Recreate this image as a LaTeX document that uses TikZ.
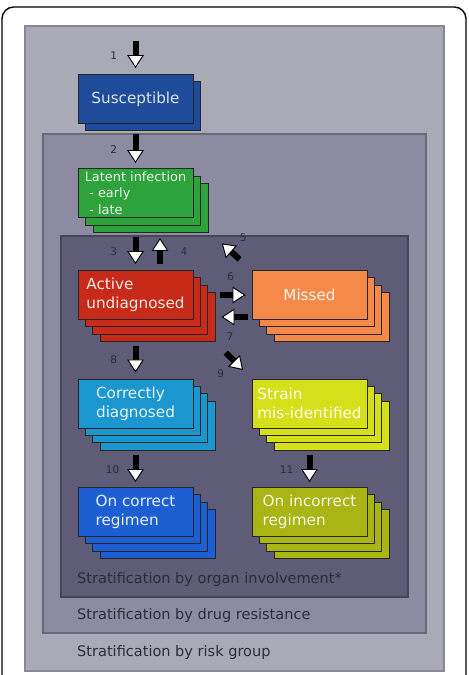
\documentclass[tikz,border=0pt]{standalone}
\usepackage{fontspec}
\setmainfont{DejaVu Sans}
\usetikzlibrary{arrows.meta, shadows, positioning}
\definecolor{riskgray}{RGB}{170,169,182}
\definecolor{druggray}{RGB}{140,139,161}
\definecolor{organgray}{RGB}{94,92,118}
\definecolor{suscblue}{RGB}{31,75,155}
\definecolor{latgreen}{RGB}{47,163,59}
\definecolor{actred}{RGB}{200,42,25}
\definecolor{missorange}{RGB}{245,137,74}
\definecolor{diagcyan}{RGB}{27,150,207}
\definecolor{strainyellow}{RGB}{213,224,27}
\definecolor{regblue}{RGB}{29,95,211}
\definecolor{regolive}{RGB}{169,181,21}
\definecolor{labelgray}{RGB}{45,45,55}

\begin{document}
\begin{tikzpicture}[
  state/.style={rectangle, draw=black!85, line width=0.8pt, minimum width=3.45cm, minimum height=1.47cm, align=left, inner sep=2pt, font=\fontsize{13}{16}\selectfont},
  stack1/.style={copy shadow={shadow xshift=0.21cm, shadow yshift=-0.21cm}},
  stack2/.style={copy shadow={shadow xshift=0.45cm, shadow yshift=-0.45cm}, copy shadow={shadow xshift=0.225cm, shadow yshift=-0.225cm}},
  stack3/.style={copy shadow={shadow xshift=0.66cm, shadow yshift=-0.66cm}, copy shadow={shadow xshift=0.44cm, shadow yshift=-0.44cm}, copy shadow={shadow xshift=0.22cm, shadow yshift=-0.22cm}},
  flow/.style={line width=0.18cm, -{Triangle[fill=white, length=0.39cm, width=0.5cm, line width=0.8pt]}},
  num/.style={font=\fontsize{9}{10}\selectfont, text=labelgray, inner sep=1pt},
  strat/.style={font=\fontsize{12.4}{14}\selectfont, text=labelgray, anchor=west, inner sep=0pt}
]
  \useasboundingbox (0,0) rectangle (14.07,20.25);
  % nested strata
  \draw[line width=1.2pt, rounded corners=0.35cm, fill=white] (0.06,-0.5) rectangle (13.98,20.04);
  \draw[draw=riskgray!80!black, line width=1.2pt, fill=riskgray] (0.75,0.12) rectangle (13.32,19.47);
  \draw[draw=druggray!75!black, line width=1.2pt, fill=druggray] (1.29,1.26) rectangle (12.78,16.23);
  \draw[draw=organgray!75!black, line width=1.2pt, fill=organgray] (1.83,2.34) rectangle (12.24,13.17);
  \node[strat] (organ) at (2.31, 2.88) {Stratification by organ involvement*};
  \node[strat] (drug) at (2.31, 1.80) {Stratification by drug resistance};
  \node[strat] (risk) at (2.31, 0.69) {Stratification by risk group};

  % compartments
  \node[state, stack1, fill=suscblue, text=white!85!suscblue, align=center] (sus) at (4.065, 17.28) {Susceptible};
  \node[state, stack2, fill=latgreen, text=white!90!latgreen, font=\fontsize{11}{14}\selectfont] (lat) at (4.065, 14.46) {Latent infection\\\hspace{0.35em}- early\\\hspace{0.35em}- late};
  \node[state, stack3, fill=actred, text=white!90!actred] (act) at (4.065, 11.40) {Active\\undiagnosed};
  \node[state, stack3, fill=missorange, text=white!90!missorange, align=center] (mis) at (9.285, 11.40) {Missed};
  \node[state, stack3, fill=diagcyan, text=white!90!diagcyan] (cor) at (4.065, 8.145) {Correctly\\diagnosed};
  \node[state, stack3, fill=strainyellow, text=white!92!strainyellow] (str) at (9.285, 8.145) {Strain\\mis-identified};
  \node[state, stack3, fill=regblue, text=white!90!regblue] (reg) at (4.065, 4.89) {On correct\\regimen};
  \node[state, stack3, fill=regolive, text=white!90!regolive] (inc) at (9.285, 4.89) {On incorrect\\regimen};

  % transitions
  \coordinate (entry) at (4.065, 19.02);
  \draw[flow, shorten >=0.18cm] (entry) -- node[num, left=0.43cm, pos=0.45] {1} (sus.north);
  \draw[flow, shorten <=0.3cm, shorten >=0.15cm] (sus.south) -- node[num, left=0.43cm, pos=0.59] {2} (lat.north);
  \draw[flow, shorten <=0.57cm, shorten >=0.18cm] (lat.south) -- node[num, left=0.43cm, pos=0.64] {3} (act.north);
  \draw[flow, shorten <=0.18cm, shorten >=0.6cm] ([xshift=0.735cm]act.north) -- node[num, right=0.49cm, pos=0.36] {4} ([xshift=0.735cm]lat.south);
  \draw[flow, shorten <=0.48cm, shorten >=1.14cm] (mis.north west) -- node[num, above right=0.22cm, pos=0.36] {5} (lat.south east);
  \draw[flow, shorten <=0.81cm, shorten >=0.18cm] (act.east) -- node[num, above=0.32cm, pos=0.64] {6} (mis.west);
  \draw[flow, shorten <=0.12cm, shorten >=0.84cm] ([yshift=-0.66cm]mis.west) -- node[num, below=0.35cm, pos=0.37] {7} ([yshift=-0.66cm]act.east);
  \draw[flow, shorten <=0.78cm, shorten >=0.18cm] (act.south) -- node[num, left=0.43cm, pos=0.68] {8} (cor.north);
  \draw[flow, shorten <=1.38cm, shorten >=0.36cm] (act.south east) -- node[num, below left=0.22cm, pos=0.69] {9} (str.north west);
  \draw[flow, shorten <=0.81cm, shorten >=0.15cm] (cor.south) -- node[num, left=0.36cm, pos=0.71] {10} (reg.north);
  \draw[flow, shorten <=0.81cm, shorten >=0.15cm] (str.south) -- node[num, left=0.36cm, pos=0.71] {11} (inc.north);
\end{tikzpicture}
\end{document}
